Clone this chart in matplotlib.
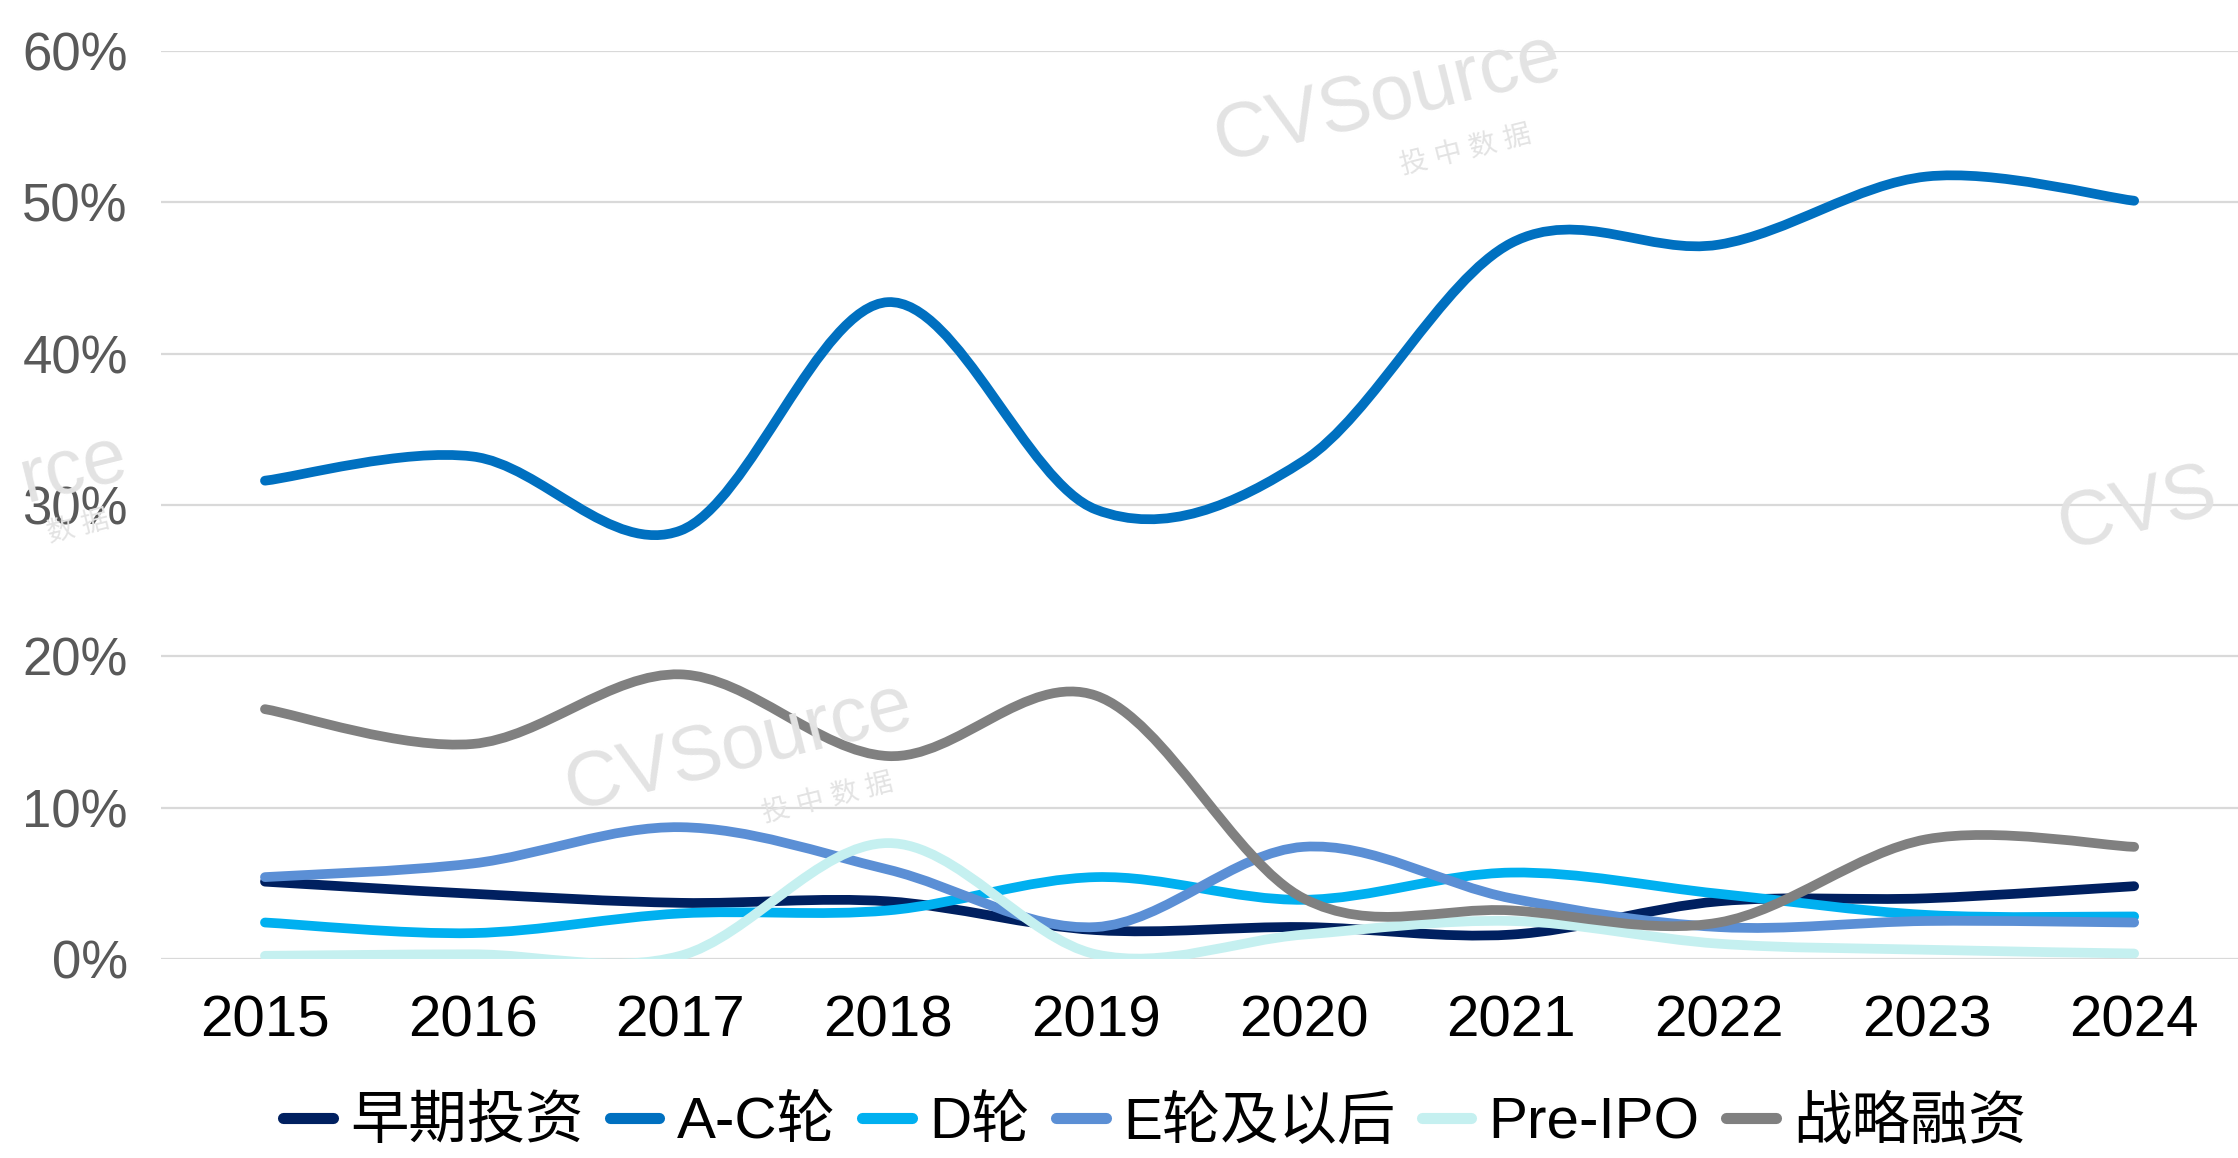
import matplotlib
matplotlib.use("Agg")
import matplotlib.pyplot as plt
from matplotlib.path import Path
from matplotlib.patches import PathPatch
from matplotlib.lines import Line2D
import numpy as np

plt.rcParams['font.family'] = ['Liberation Sans', 'Noto Sans CJK SC', 'DejaVu Sans']

# data
years = ['2015', '2016', '2017', '2018', '2019', '2020', '2021', '2022', '2023', '2024']
early = [5.1, 4.3, 3.7, 3.8, 1.9, 2.1, 1.6, 3.8, 4.0, 4.8]
a_to_c = [31.6, 33.2, 28.3, 43.4, 29.7, 32.9, 47.3, 47.2, 51.7, 50.1]
round_d = [2.4, 1.7, 3.0, 3.2, 5.4, 3.9, 5.7, 4.3, 2.9, 2.8]
round_e = [5.4, 6.3, 8.7, 5.9, 2.1, 7.4, 4.0, 2.1, 2.5, 2.4]
pre_ipo = [0.2, 0.3, 0.2, 7.65, 0.3, 1.6, 2.5, 1.0, 0.6, 0.35]
strategic = [16.5, 14.2, 18.8, 13.4, 17.4, 4.0, 3.2, 2.4, 7.9, 7.4]

names = ['早期投资', 'A-C轮', 'D轮', 'E轮及以后', 'Pre-IPO', '战略融资']
series = [early, a_to_c, round_d, round_e, pre_ipo, strategic]
colors = ['#002060', '#0070C0', '#00B0F0', '#5B8FD5', '#C5F0F0', '#808080']
# drawing order (back to front)
order = [0, 2, 3, 4, 5, 1]


def smooth_path(x, y):
    # Excel style smoothed line: cubic Bezier through each point
    x = np.asarray(x, float)
    y = np.asarray(y, float)
    n = len(x)
    verts = [(x[0], y[0])]
    codes = [Path.MOVETO]
    for i in range(n - 1):
        p0 = i - 1 if i > 0 else i
        p3 = i + 2 if i + 2 < n else i + 1
        c1 = (x[i] + (x[i + 1] - x[p0]) / 6, y[i] + (y[i + 1] - y[p0]) / 6)
        c2 = (x[i + 1] - (x[p3] - x[i]) / 6, y[i + 1] - (y[p3] - y[i]) / 6)
        verts += [c1, c2, (x[i + 1], y[i + 1])]
        codes += [Path.CURVE4] * 3
    return Path(verts, codes)


fig = plt.figure(figsize=(22.38, 11.58), dpi=100)
ax = fig.add_axes([0.072, 0.172, 0.928, 0.784])

xs = np.arange(len(years))
for i in order:
    p = smooth_path(xs, series[i])
    ax.add_patch(PathPatch(p, facecolor='none', edgecolor=colors[i], lw=7,
                           capstyle='round', joinstyle='round', zorder=3 + order.index(i)))

ax.set_xlim(-0.5, len(years) - 0.5)
ax.set_ylim(0, 60)
ax.set_yticks(range(0, 61, 10))
ax.set_yticklabels([f'{v}%' for v in range(0, 61, 10)], fontsize=38, color='#595959')
ax.set_xticks(xs)
ax.set_xticklabels(years, fontsize=42, color='black')
ax.tick_params(axis='x', length=0, pad=26)
ax.tick_params(axis='y', length=0, pad=24)
ax.grid(axis='y', color='#D9D9D9', lw=1.6)
ax.set_axisbelow(True)
for s in ax.spines.values():
    s.set_visible(False)

# watermark
wm = dict(color='#E3E3E3', rotation=14, ha='center', va='center', zorder=1,
          transform=fig.transFigure)
fig.text(0.62, 0.915, 'CVSource', fontsize=56, **wm)
fig.text(0.655, 0.87, '投 中 数 据', fontsize=20, **wm)
fig.text(0.33, 0.355, 'CVSource', fontsize=56, **wm)
fig.text(0.37, 0.31, '投 中 数 据', fontsize=20, **wm)
fig.text(0.955, 0.56, 'CVS', fontsize=56, **wm)
fig.text(0.033, 0.595, 'rce', fontsize=56, **wm)
fig.text(0.035, 0.545, '数 据', fontsize=20, **wm)

handles = [Line2D([], [], color=colors[i], lw=8, solid_capstyle='round') for i in range(6)]
fig.legend(handles, names, loc='center', bbox_to_anchor=(0.516, 0.03), ncol=6,
           frameon=False, fontsize=42, handlelength=0.85, handletextpad=0.3,
           columnspacing=0.45, borderpad=0.1)

fig.savefig('out.png', dpi=100)
